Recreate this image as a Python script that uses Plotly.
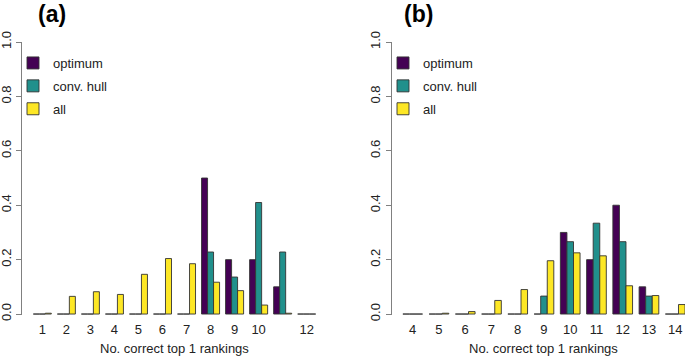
import plotly.graph_objects as go

# ---- data ----
series_names = ["optimum", "conv. hull", "all"]
series_colors = ["#440154", "#21908C", "#FDE725"]

cats_a = [1, 2, 3, 4, 5, 6, 7, 8, 9, 10, 11, 12]
optimum_a = [0, 0, 0, 0, 0, 0, 0, 0.50, 0.20, 0.20, 0.10, 0]
convhull_a = [0, 0, 0, 0, 0, 0, 0, 0.228, 0.136, 0.41, 0.228, 0]
all_a = [0.003, 0.065, 0.082, 0.072, 0.146, 0.204, 0.185, 0.117, 0.086, 0.033, 0.003, 0]
ticklabels_a = ["1", "2", "3", "4", "5", "6", "7", "8", "9", "10", "", "12"]

cats_b = [4, 5, 6, 7, 8, 9, 10, 11, 12, 13, 14]
optimum_b = [0, 0, 0, 0, 0, 0, 0.30, 0.20, 0.40, 0.10, 0]
convhull_b = [0, 0, 0, 0, 0, 0.066, 0.266, 0.334, 0.266, 0.066, 0]
all_b = [0, 0.003, 0.009, 0.05, 0.09, 0.196, 0.225, 0.214, 0.104, 0.068, 0.035]
ticklabels_b = [str(c) for c in cats_b]

yticks = [0, 0.2, 0.4, 0.6, 0.8, 1.0]
xlabel = "No. correct top 1 rankings"

FONT = "Liberation Sans, Arial, Helvetica, sans-serif"
W, H = 685, 357

fig = go.Figure()

panels = [
    (cats_a, [optimum_a, convhull_a, all_a], "x", "y", "legend"),
    (cats_b, [optimum_b, convhull_b, all_b], "x2", "y2", "legend2"),
]
for cats, vals, xa, ya, lg in panels:
    for name, color, v in zip(series_names, series_colors, vals):
        fig.add_trace(go.Bar(
            x=cats, y=v, name=name, xaxis=xa, yaxis=ya,
            marker=dict(color=color, line=dict(color="#333333", width=0.9)),
            legend=lg, legendgroup=lg + name, showlegend=True,
            cliponaxis=False,
        ))

ydom = [41.6 / H, 315.0 / H]
yax = dict(range=[-0.005, 1.0], domain=ydom, showgrid=False, zeroline=False,
           automargin=False,
           showline=True, linecolor="#808080", linewidth=1,
           ticks="outside", ticklen=5, tickcolor="#808080", tickwidth=1,
           tickvals=yticks, tickformat=".1f", tickangle=-90, ticklabelstandoff=0,
           tickfont=dict(family=FONT, size=13, color="#222222"))
xax = dict(showgrid=False, zeroline=False, showline=False, automargin=False,
           ticks="", ticklabelstandoff=5,
           tickfont=dict(family=FONT, size=13, color="#222222"))

fig.update_layout(
    template="none",
    width=W, height=H,
    margin=dict(l=0, r=0, t=0, b=0, autoexpand=False),
    paper_bgcolor="white", plot_bgcolor="white",
    barmode="group", bargap=0.25, bargroupgap=0,
    font=dict(family=FONT, size=13, color="#222222"),
    xaxis=dict(xax, domain=[22 / W, 327 / W], range=[0.155, 12.845],
               tickvals=cats_a, ticktext=ticklabels_a, anchor="y"),
    yaxis=dict(yax, anchor="x"),
    xaxis2=dict(xax, domain=[391.6 / W, 1.0], range=[3.195, 14.373],
                tickvals=cats_b, ticktext=ticklabels_b, anchor="y2"),
    yaxis2=dict(yax, anchor="x2"),
    legend=dict(x=13 / W, y=(H - 48) / H, xanchor="left", yanchor="top",
                bgcolor="rgba(0,0,0,0)", font=dict(family=FONT, size=13),
                tracegroupgap=3, itemwidth=30),
    legend2=dict(x=383 / W, y=(H - 48) / H, xanchor="left", yanchor="top",
                 bgcolor="rgba(0,0,0,0)", font=dict(family=FONT, size=13),
                 tracegroupgap=3, itemwidth=30),
    annotations=[
        dict(text="<b>(a)</b>", x=52 / W, y=1.0, xref="paper", yref="paper",
             showarrow=False, font=dict(family=FONT, size=23, color="#000000"),
             xanchor="center", yanchor="top", borderpad=0),
        dict(text="<b>(b)</b>", x=418 / W, y=1.0, xref="paper", yref="paper",
             showarrow=False, font=dict(family=FONT, size=23, color="#000000"),
             xanchor="center", yanchor="top", borderpad=0),
        dict(text=xlabel, x=174.5 / W, y=(H - 348) / H, xref="paper", yref="paper",
             showarrow=False, font=dict(family=FONT, size=13, color="#222222"),
             xanchor="center", yanchor="middle"),
        dict(text=xlabel, x=543 / W, y=(H - 348) / H, xref="paper", yref="paper",
             showarrow=False, font=dict(family=FONT, size=13, color="#222222"),
             xanchor="center", yanchor="middle"),
    ],
)

fig.write_html(
    "out.html",
    config={"displayModeBar": False},
    post_script="document.body.style.margin='0';document.body.style.overflow='hidden';",
)
